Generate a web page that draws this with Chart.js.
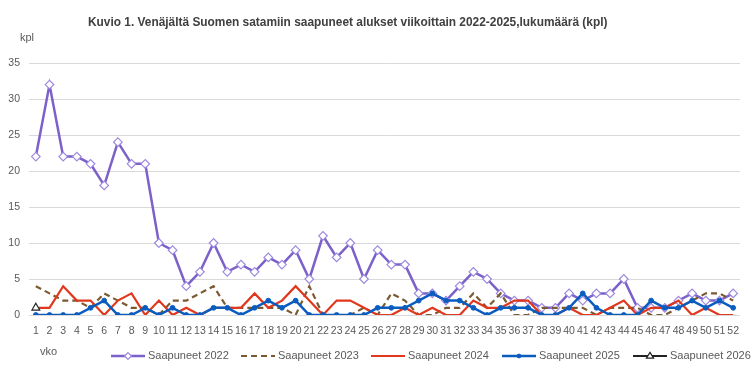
<!DOCTYPE html>
<html>
<head>
<meta charset="utf-8">
<script src="https://cdn.jsdelivr.net/npm/chart.js@4.4.1/dist/chart.umd.min.js"></script>
<style>
  html, body { margin: 0; padding: 0; background: #ffffff; }
  #wrap { width: 756px; height: 378px; position: relative; }
</style>
</head>
<body>
<div id="wrap"><canvas id="c" width="756" height="378"></canvas></div>
<script>
const weeks = ["1","2","3","4","5","6","7","8","9","10","11","12","13","14","15","16","17","18","19","20","21","22","23","24","25","26","27","28","29","30","31","32","33","34","35","36","37","38","39","40","41","42","43","44","45","46","47","48","49","50","51","52"];
const saapuneet2022 = [22,32,22,22,21,18,24,21,21,10, 9,4,6,10,6,7,6,8,7,9, 5,11,8,10,5,9,7,7,3,3, 2,4,6,5,3,2,2,1,1,3, 2,3,3,5,1,1,1,2,3,2, 2,3];
const saapuneet2023 = [4,3,2,2,1,3,2,1,1,0, 2,2,3,4,1,1,1,1,1,0, 4,0,0,0,1,0,3,2,0,0, 1,1,3,1,3,0,0,1,1,1, 1,0,1,1,1,0,0,1,2,3, 3,2];
const saapuneet2024 = [1,1,4,2,2,0,2,3,0,2, 0,1,0,1,1,1,3,1,2,4, 2,0,2,2,1,0,0,1,0,1, 0,0,2,1,1,2,2,0,0,1, 0,0,1,2,0,1,1,2,0,1, 0,0];
const saapuneet2025 = [0,0,0,0,1,2,0,0,1,0, 1,0,0,1,1,0,1,2,1,2, 0,0,0,0,0,1,1,1,2,3, 2,2,1,0,1,1,1,0,0,1, 3,1,0,0,0,2,1,1,2,1, 2,1];
const saapuneet2026 = [1,null,null,null,null,null,null,null,null,null, null,null,null,null,null,null,null,null,null,null, null,null,null,null,null,null,null,null,null,null, null,null,null,null,null,null,null,null,null,null, null,null,null,null,null,null,null,null,null,null, null,null];
const seriesNames = ["Saapuneet 2022","Saapuneet 2023","Saapuneet 2024","Saapuneet 2025","Saapuneet 2026"];
const yTicks = [0,5,10,15,20,25,30,35];
const titleText = "Kuvio 1. Venäjältä Suomen satamiin saapuneet alukset viikoittain 2022-2025,lukumäärä (kpl)";
const yUnit = "kpl";
const xUnit = "vko";

const FONT = "'Liberation Sans', Arial, sans-serif";
const TXT = "#595959";

const datasets = [
  { label: seriesNames[0], data: saapuneet2022, borderColor: "#7b61c9", borderWidth: 2.5,
    pointStyle: "rectRot", pointRadius: 4.3, pointBackgroundColor: "#ffffff", pointBorderColor: "#9d88e0", pointBorderWidth: 1.2, order: 5 },
  { label: seriesNames[1], data: saapuneet2023, borderColor: "#7a5a32", borderWidth: 2.2, borderDash: [6,4],
    pointRadius: 0, order: 4 },
  { label: seriesNames[2], data: saapuneet2024, borderColor: "#e0371d", borderWidth: 2.2,
    pointRadius: 0, order: 3 },
  { label: seriesNames[3], data: saapuneet2025, borderColor: "#0b5cbf", borderWidth: 2.5,
    pointStyle: "circle", pointRadius: 2.4, pointBackgroundColor: "#0b5cbf", pointBorderColor: "#0b5cbf", pointBorderWidth: 1, order: 2 },
  { label: seriesNames[4], data: saapuneet2026, borderColor: "#222222", borderWidth: 2,
    pointStyle: "triangle", pointRadius: 4.5, pointBackgroundColor: "#ffffff", pointBorderColor: "#222222", pointBorderWidth: 1.2, order: 1 }
];
datasets.forEach(d => { d.tension = 0; d.fill = false; d.spanGaps = false; d.backgroundColor = d.borderColor; });

const legendPos = [111, 241, 371, 502, 633];

const decor = {
  id: "decor",
  afterDraw(chart) {
    const ctx = chart.ctx;
    ctx.save();
    ctx.fillStyle = "#404040";
    ctx.font = "bold 11.9px " + FONT;
    ctx.textBaseline = "middle";
    ctx.textAlign = "left";
    ctx.fillText(titleText, 88, 23);
    ctx.fillStyle = TXT;
    ctx.font = "11px " + FONT;
    ctx.fillText(yUnit, 20, 38);
    ctx.fillText(xUnit, 40, 352);
    // legend
    chart.data.datasets.forEach((ds, i) => {
      const x0 = legendPos[i], y = 356;
      ctx.save();
      ctx.strokeStyle = ds.borderColor;
      ctx.lineWidth = ds.borderWidth;
      ctx.setLineDash(ds.borderDash || []);
      ctx.beginPath(); ctx.moveTo(x0, y); ctx.lineTo(x0 + 34, y); ctx.stroke();
      ctx.setLineDash([]);
      if (ds.pointRadius > 0) {
        ctx.fillStyle = ds.pointBackgroundColor;
        ctx.strokeStyle = ds.pointBorderColor;
        ctx.lineWidth = ds.pointBorderWidth || 1;
        ctx.beginPath();
        const r = ds.pointRadius * 0.8;
        const cx = x0 + 17;
        if (ds.pointStyle === "rectRot") {
          ctx.moveTo(cx, y - r); ctx.lineTo(cx + r, y); ctx.lineTo(cx, y + r); ctx.lineTo(cx - r, y); ctx.closePath();
        } else if (ds.pointStyle === "triangle") {
          ctx.moveTo(cx, y - r); ctx.lineTo(cx + r, y + r * 0.6); ctx.lineTo(cx - r, y + r * 0.6); ctx.closePath();
        } else {
          ctx.arc(cx, y, r, 0, Math.PI * 2);
        }
        ctx.fill(); ctx.stroke();
      }
      ctx.restore();
      ctx.fillStyle = TXT;
      ctx.font = "11px " + FONT;
      ctx.textBaseline = "middle";
      ctx.fillText(ds.label, x0 + 37, y);
    });
    ctx.restore();
  }
};

new Chart(document.getElementById("c"), {
  type: "line",
  data: { labels: weeks, datasets: datasets },
  options: {
    responsive: false,
    animation: false,
    devicePixelRatio: 1,
    layout: { padding: { top: 63, right: 16, bottom: 0, left: 0 } },
    plugins: { legend: { display: false }, title: { display: false }, tooltip: { enabled: false } },
    scales: {
      x: {
        type: "category",
        offset: true,
        grid: { display: false, drawTicks: false },
        border: { display: false },
        ticks: { color: TXT, font: { family: FONT, size: 10.5 }, autoSkip: false, maxRotation: 0, minRotation: 0, padding: 10 },
        afterFit(scale) { scale.height = 63; }
      },
      y: {
        min: 0, max: 35,
        afterBuildTicks(scale) { scale.ticks = yTicks.map(v => ({ value: v })); },
        grid: { color: "#d9d9d9", lineWidth: 1, drawTicks: false },
        border: { display: false },
        ticks: { color: TXT, font: { family: FONT, size: 10.5 }, padding: 9 },
        afterFit(scale) { scale.width = 29; }
      }
    }
  },
  plugins: [decor]
});
</script>
</body>
</html>
